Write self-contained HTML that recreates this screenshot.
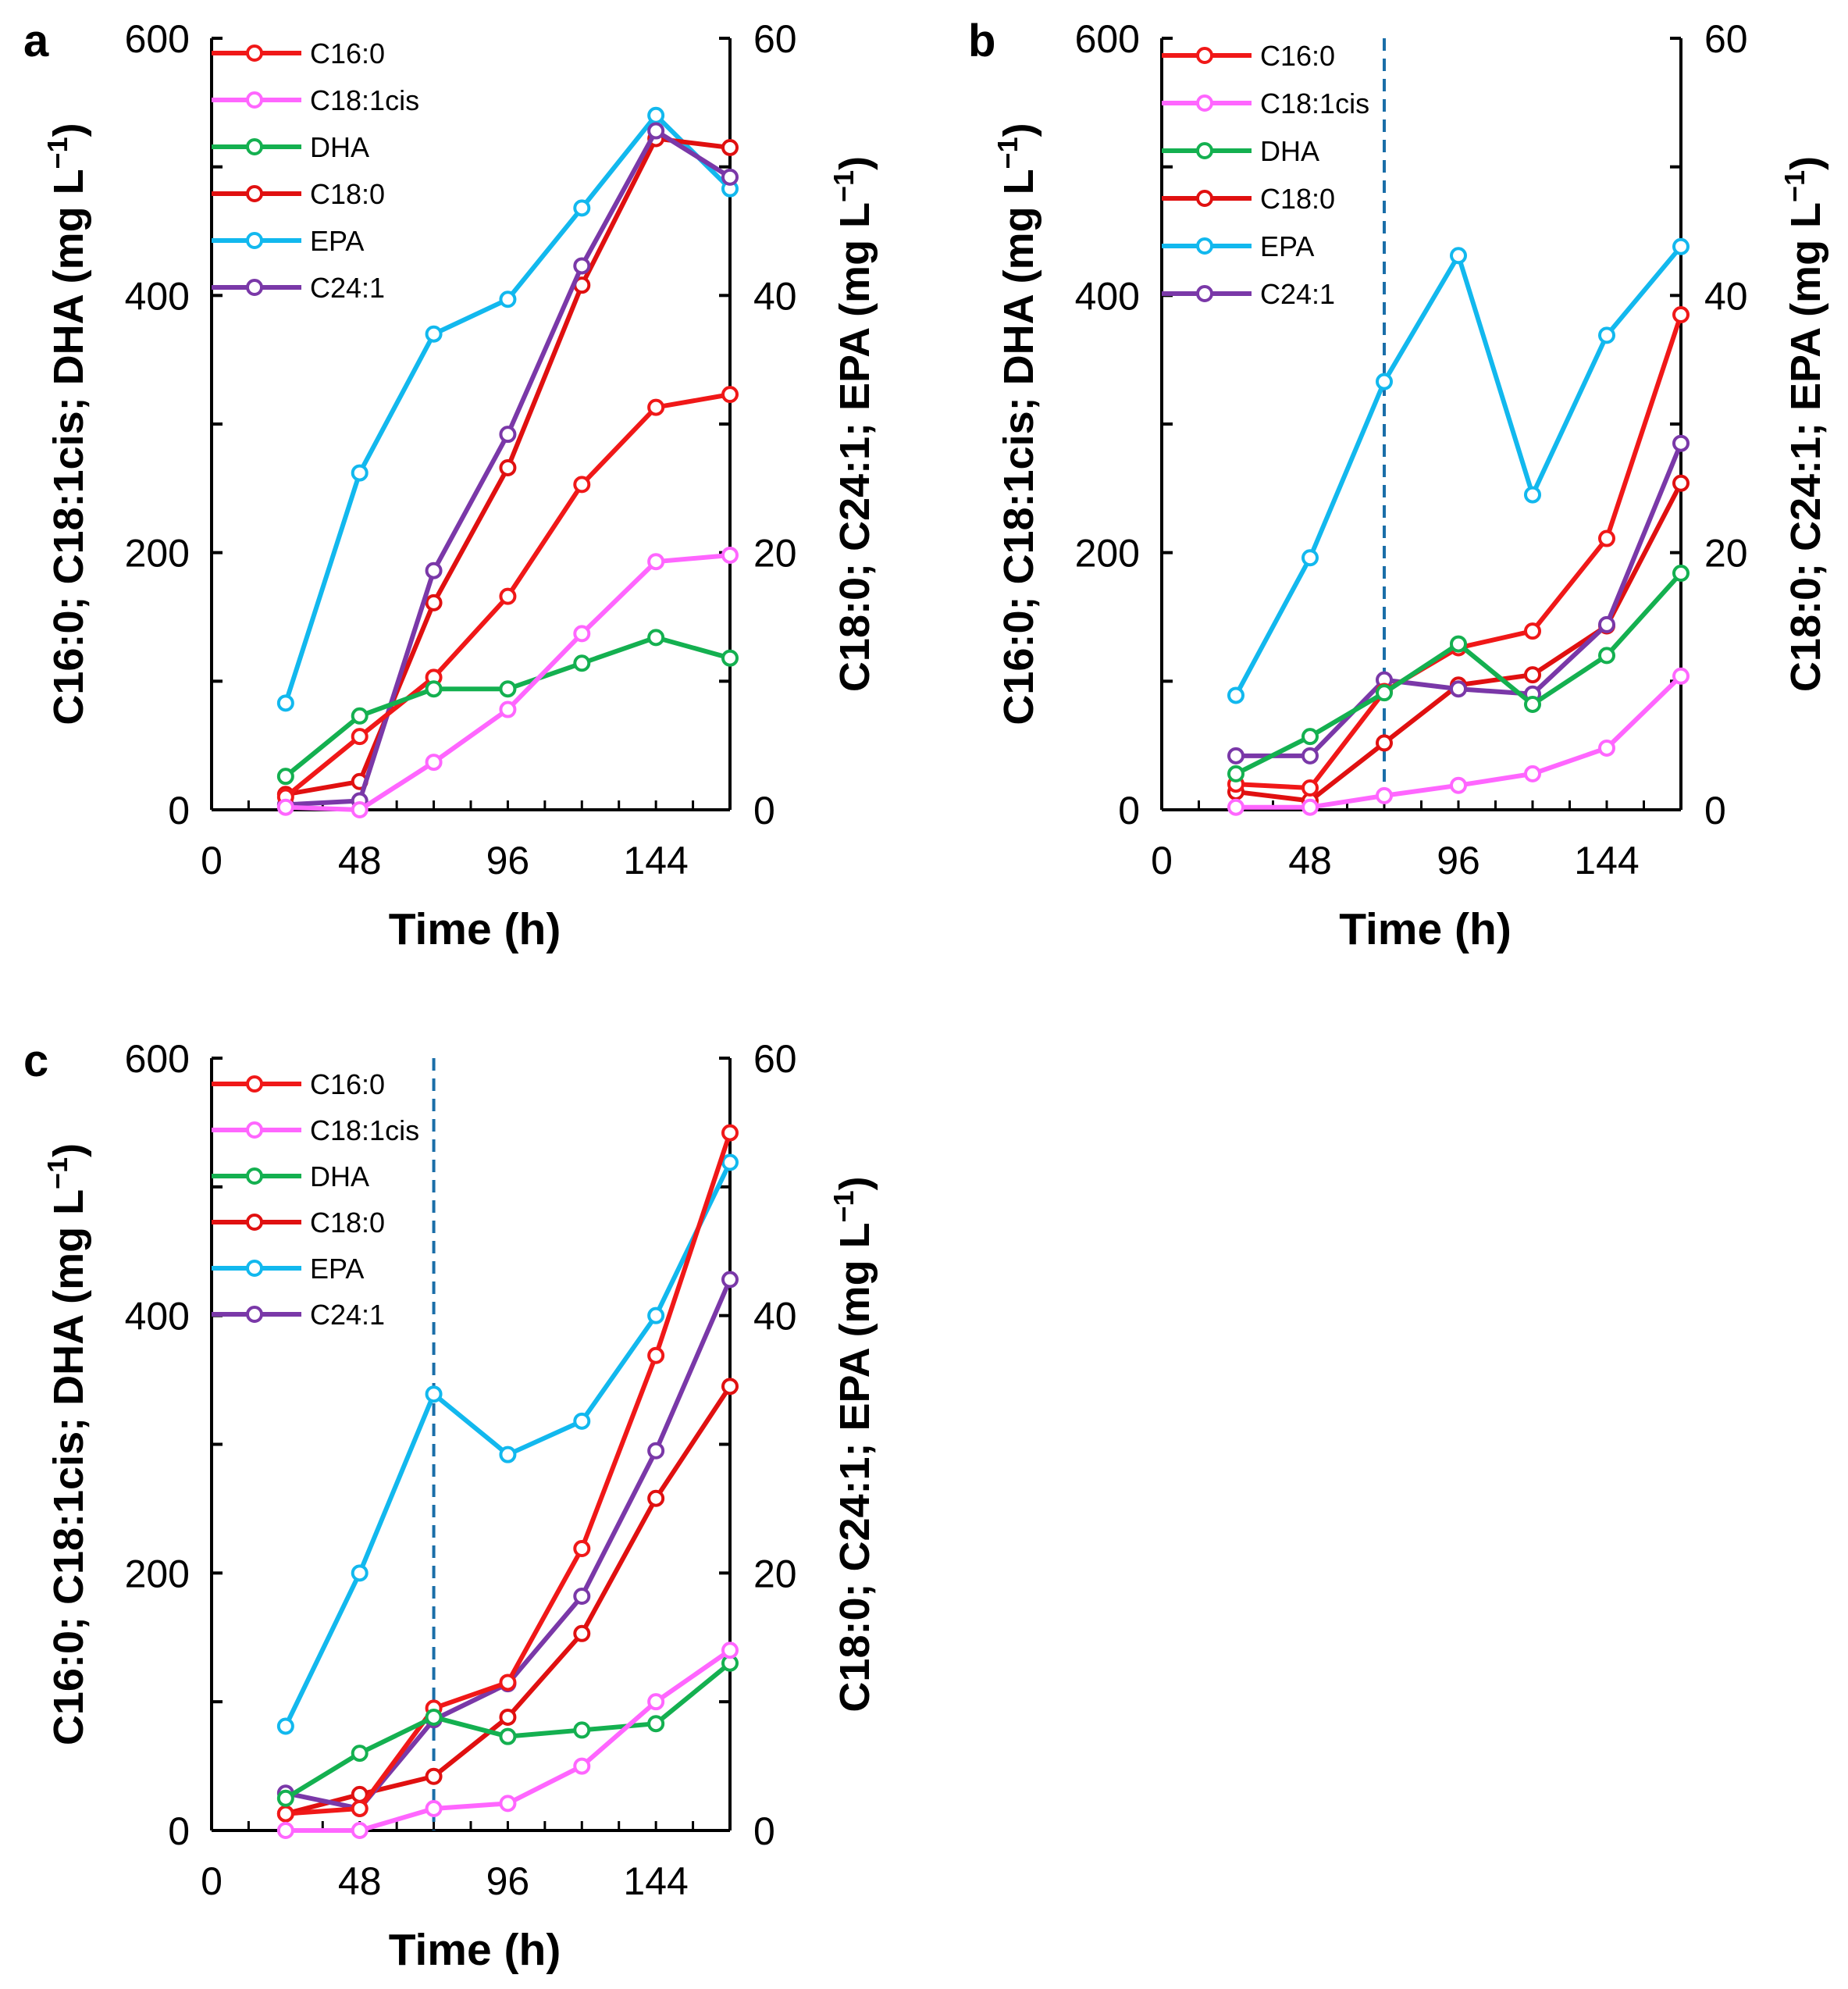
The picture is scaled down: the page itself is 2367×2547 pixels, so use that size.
<!DOCTYPE html>
<html><head><meta charset="utf-8"><style>
html,body{margin:0;padding:0;background:#fff}
svg{display:block;font-family:"Liberation Sans",Arial,sans-serif}
</style></head><body>
<svg id="fig" width="2367" height="2547" viewBox="0 0 2367 2547" xmlns="http://www.w3.org/2000/svg"></svg>
<script>
const times=[24,48,72,96,120,144,168];
const seriesNames=["C16:0","C18:1cis","DHA","C18:0","EPA","C24:1"];
const seriesColors=["#f01818","#ff66ff","#14b050","#e01010","#12b8ee","#7a38a8"];
const rightAxisSeries=[false,false,false,true,true,true];
const xTicks=[0,48,96,144];
const leftTickLabels=["0","200","400","600"];
const rightTickLabels=["0","20","40","60"];
// panel a
const a_C160=[10,57,103,166,253,313,323];
const a_C181=[2,0,37,78,137,193,198];
const a_DHA=[26,73,94,94,114,134,118];
const a_C180=[1.2,2.2,16.1,26.6,40.8,52.2,51.5];
const a_EPA=[8.3,26.2,37,39.7,46.8,54,48.3];
const a_C241=[0.4,0.7,18.6,29.2,42.3,52.8,49.2];
// panel b
const b_C160=[20,17,92,126,139,211,385];
const b_C181=[2,2,11,19,28,48,104];
const b_DHA=[28,57,91,129,82,120,184];
const b_C180=[1.4,0.7,5.2,9.7,10.5,14.3,25.4];
const b_EPA=[8.9,19.6,33.3,43.1,24.5,36.9,43.8];
const b_C241=[4.2,4.2,10.1,9.4,9.0,14.4,28.5];
// panel c
const c_C160=[13,17,95,115,219,369,542];
const c_C181=[0,0,17,21,50,100,140];
const c_DHA=[25,60,88,73,78,83,130];
const c_C180=[1.3,2.8,4.2,8.8,15.3,25.8,34.5];
const c_EPA=[8.1,20,33.9,29.2,31.8,40,51.9];
const c_C241=[2.9,1.7,8.6,11.4,18.2,29.5,42.8];

const NS="http://www.w3.org/2000/svg";
const svg=document.getElementById('fig');
function mk(tag,attrs,parent,name){const e=document.createElementNS(NS,tag);for(const k in attrs)e.setAttribute(k,attrs[k]);


(parent||svg).appendChild(e);return e;}

function panel(p){
  const g=mk('g',{},svg,'panel-'+p.id);
  const X=t=>p.xL+(p.xR-p.xL)*t/168;
  const YL=v=>p.yB-(p.yB-p.yT)*v/600;
  const YR=v=>p.yB-(p.yB-p.yT)*v/60;
  const ax={stroke:'#000','stroke-width':4,fill:'none'};
  mk('line',Object.assign({x1:p.xL,y1:p.yT,x2:p.xL,y2:p.yB},ax),g,'left-y-axis');
  mk('line',Object.assign({x1:p.xR,y1:p.yT,x2:p.xR,y2:p.yB},ax),g,'right-y-axis');
  mk('line',Object.assign({x1:p.xL,y1:p.yB,x2:p.xR,y2:p.yB},ax),g,'x-axis');
  for(let v=0;v<=600;v+=100){
    mk('line',{x1:p.xL,y1:YL(v),x2:p.xL+14,y2:YL(v),stroke:'#000','stroke-width':4},g,'left-tick');
    mk('line',{x1:p.xR,y1:YL(v),x2:p.xR-14,y2:YL(v),stroke:'#000','stroke-width':4},g,'right-tick');
  }
  for(let t=0;t<=168;t+=12){mk('line',{x1:X(t),y1:p.yB,x2:X(t),y2:p.yB-12,stroke:'#000','stroke-width':3},g,'x-tick');}
  for(let i=0;i<4;i++){
    const tl=mk('text',{x:p.xL-28,y:YL(i*200)+18,'font-size':50,'text-anchor':'end',fill:'#000'},g,'left-tick-label');tl.textContent=leftTickLabels[i];
    const tr=mk('text',{x:p.xR+30,y:YL(i*200)+18,'font-size':50,'text-anchor':'start',fill:'#000'},g,'right-tick-label');tr.textContent=rightTickLabels[i];
  }
  xTicks.forEach(t=>{const e=mk('text',{x:X(t),y:p.yB+82,'font-size':50,'text-anchor':'middle'},g,'x-tick-label');e.textContent=t;});
  const xt=mk('text',{x:(p.xL+p.xR)/2+5,y:p.yB+172,'font-size':57,'font-weight':'bold','text-anchor':'middle'},g,'x-axis-title');xt.textContent='Time (h)';
  const cy=(p.yT+p.yB)/2;
  const lt=mk('text',{x:0,y:0,'font-size':54,'font-weight':'bold','text-anchor':'middle',transform:`translate(${p.xL-165},${cy}) rotate(-90)`},g,'left-y-axis-title');
  lt.innerHTML='C16:0; C18:1cis; DHA (mg L<tspan dy="-20" font-size="36">−1</tspan><tspan dy="20">)</tspan>';
  const rt=mk('text',{x:0,y:0,'font-size':54,'font-weight':'bold','text-anchor':'middle',transform:`translate(${p.xR+178},${cy}) rotate(-90)`},g,'right-y-axis-title');
  rt.innerHTML='C18:0; C24:1; EPA (mg L<tspan dy="-20" font-size="36">−1</tspan><tspan dy="20">)</tspan>';
  const lbl=mk('text',{x:p.lx,y:p.ly,'font-size':58,'font-weight':'bold'},g,'panel-label');lbl.textContent=p.id;
  if(p.dash){mk('line',{x1:X(72),y1:p.yT,x2:X(72),y2:p.yB,stroke:'#1a6ea8','stroke-width':4,'stroke-dasharray':'16,10'},g,'induction-line');}
  const order=[4,3,5,0,2,1];
  order.forEach(i=>{
    const d=p.data[i];const Y=rightAxisSeries[i]?YR:YL;
    const pts=times.map((t,k)=>X(t)+','+Y(d[k])).join(' ');
    mk('polyline',{points:pts,fill:'none',stroke:seriesColors[i],'stroke-width':6,'stroke-linejoin':'round'},g,'series-'+seriesNames[i].toLowerCase().replace(/[^a-z0-9]/g,''));
    times.forEach((t,k)=>{mk('circle',{cx:X(t),cy:Y(d[k]),r:9,fill:'#fff',stroke:seriesColors[i],'stroke-width':4},g,'point');});
  });
  seriesNames.forEach((n,i)=>{
    const y=p.legY+i*p.legStep;
    mk('line',{x1:p.xL,y1:y,x2:p.xL+115,y2:y,stroke:seriesColors[i],'stroke-width':6},g,'legend-line');
    mk('circle',{cx:p.xL+55,cy:y,r:9,fill:'#fff',stroke:seriesColors[i],'stroke-width':4},g,'legend-marker');
    const t=mk('text',{x:p.xL+126,y:y+13,'font-size':36},g,'legend-entry');t.textContent=n;
  });
}
panel({id:'a',xL:271,xR:935,yT:49,yB:1037,lx:30,ly:72,dash:false,legY:68,legStep:60,data:[a_C160,a_C181,a_DHA,a_C180,a_EPA,a_C241]});
panel({id:'b',xL:1488,xR:2153,yT:49,yB:1037,lx:1240,ly:72,dash:true,legY:71,legStep:61,data:[b_C160,b_C181,b_DHA,b_C180,b_EPA,b_C241]});
panel({id:'c',xL:271,xR:935,yT:1355,yB:2344,lx:30,ly:1378,dash:true,legY:1388,legStep:59,data:[c_C160,c_C181,c_DHA,c_C180,c_EPA,c_C241]});
</script>
</body></html>
